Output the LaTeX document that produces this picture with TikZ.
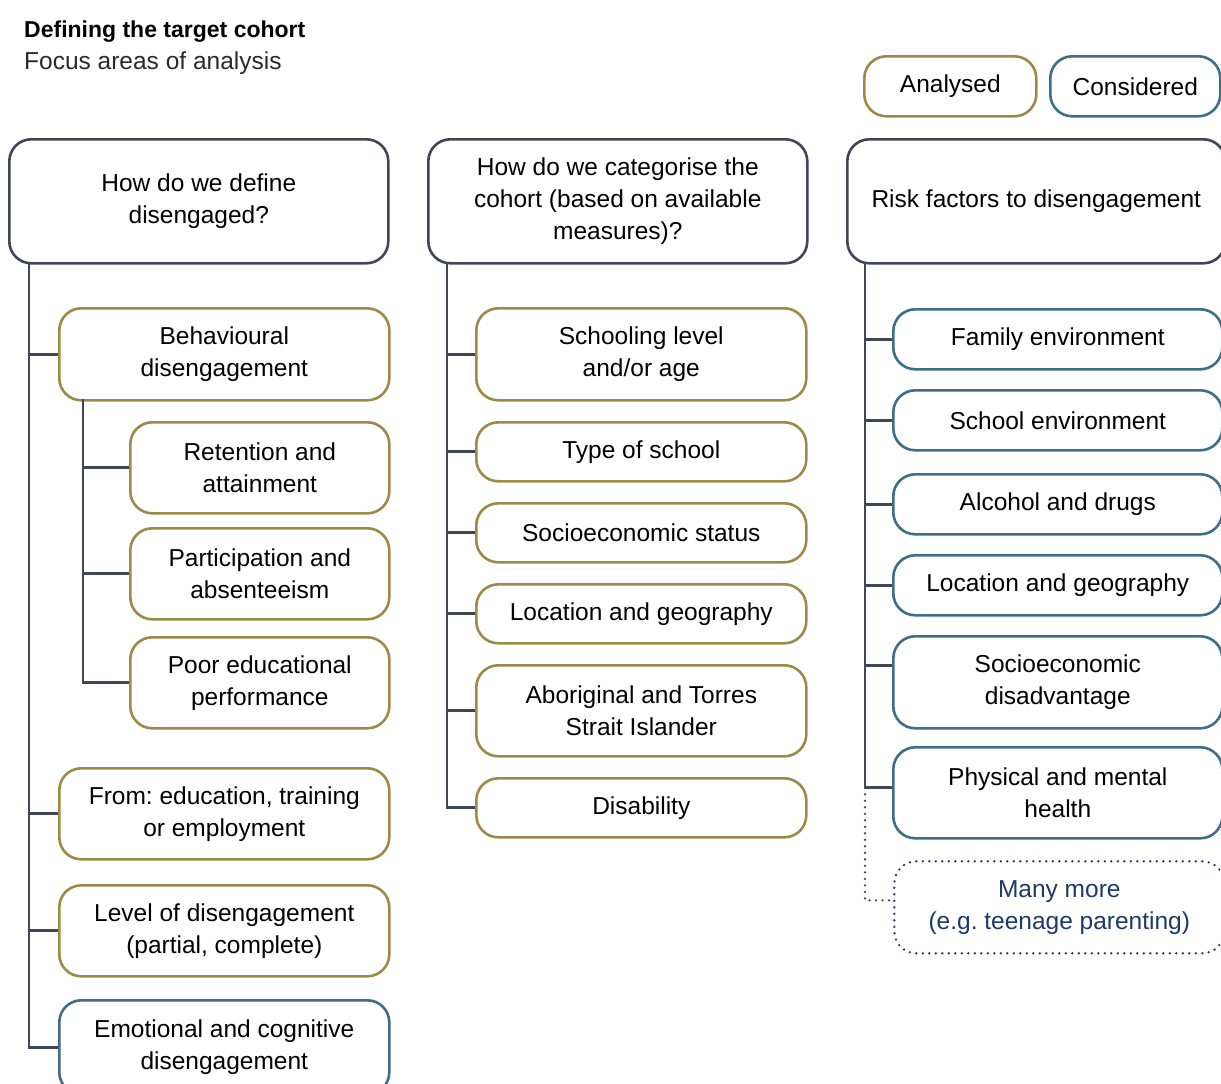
\documentclass[tikz,border=0pt]{standalone}
\usepackage{fontspec}
\setmainfont{Liberation Sans}
\frenchspacing
\definecolor{gold}{HTML}{9E8A48}
\definecolor{teal}{HTML}{3D6E8A}
\definecolor{dark}{HTML}{3F4756}
\definecolor{navy}{HTML}{1E3A6B}
\definecolor{sub}{HTML}{2A2A2A}
\begin{document}
\begin{tikzpicture}[x=1pt,y=-1pt,
  base/.style={rounded corners=22pt, line width=2.6pt, fill=white, anchor=north west,
     align=center, inner sep=0pt, font=\fontsize{24.5}{32}\selectfont\frenchspacing, text=black},
  hbox/.style={base, draw=dark},
  gbox/.style={base, draw=gold},
  bbox/.style={base, draw=teal},
  mbox/.style={base, draw=navy, line width=2.6pt, line cap=round, dash pattern={on 0pt off 6.5pt}, text=navy},
  wire/.style={draw=dark, line width=2.8pt},
  dwire/.style={draw=dark, line width=2.6pt, line cap=round, dash pattern={on 0pt off 6.5pt}}]
\useasboundingbox (0,0) rectangle (1221,1084);
\clip (0,0) rectangle (1221,1084);

% titles
\node[anchor=base west, inner sep=0pt, font=\fontsize{23}{28}\selectfont\bfseries] (title) at (24,37) {Defining the target cohort};
\node[anchor=base west, inner sep=0pt, font=\fontsize{24.5}{28}\selectfont, text=sub] (subtitle) at (24,69) {Focus areas of analysis};

% legend
\node[gbox, minimum width=172pt, minimum height=60pt] (lga) at (863,55) {Analysed};
\node[bbox, minimum width=170pt, minimum height=60pt] (lgc) at (1049,55) {Considered};

% headers
\node[hbox, minimum width=379pt, minimum height=124pt] (h1) at (8,138) {How do we define\\disengaged?};
\node[hbox, minimum width=379pt, minimum height=124pt] (h2) at (427,138) {How do we categorise the\\cohort (based on available\\measures)?};
\node[hbox, minimum width=378pt, minimum height=124pt] (h3) at (846,138) {Risk factors to disengagement};

% column 1
\node[gbox, minimum width=330pt, minimum height=92pt] (a1) at (58,307) {Behavioural\\disengagement};
\node[gbox, minimum width=259pt, minimum height=91pt] (r1) at (129,421) {Retention and\\attainment};
\node[gbox, minimum width=259pt, minimum height=91pt] (r2) at (129,527) {Participation and\\absenteeism};
\node[gbox, minimum width=259pt, minimum height=91pt] (r3) at (129,636) {Poor educational\\performance};
\node[gbox, minimum width=330pt, minimum height=91pt] (a2) at (58,767) {From: education, training\\or employment};
\node[gbox, minimum width=330pt, minimum height=91pt] (a3) at (58,884) {Level of disengagement\\(partial, complete)};
\node[bbox, minimum width=330pt, minimum height=94pt] (a4) at (58,999) {Emotional and cognitive\\disengagement};

% column 2
\node[gbox, minimum width=330pt, minimum height=92pt] (c1) at (475,307) {Schooling level\\and/or age};
\node[gbox, minimum width=330pt, minimum height=59pt] (c2) at (475,421) {Type of school};
\node[gbox, minimum width=330pt, minimum height=59pt] (c3) at (475,502) {Socioeconomic status};
\node[gbox, minimum width=330pt, minimum height=59pt] (c4) at (475,583) {Location and geography};
\node[gbox, minimum width=330pt, minimum height=91pt] (c5) at (475,664) {Aboriginal and Torres\\Strait Islander};
\node[gbox, minimum width=330pt, minimum height=59pt] (c6) at (475,777) {Disability};

% column 3
\node[bbox, minimum width=329pt, minimum height=60pt] (d1) at (892,308) {Family environment};
\node[bbox, minimum width=329pt, minimum height=60pt] (d2) at (892,389) {School environment};
\node[bbox, minimum width=329pt, minimum height=60pt] (d3) at (892,473) {Alcohol and drugs};
\node[bbox, minimum width=329pt, minimum height=60pt] (d4) at (892,554) {Location and geography};
\node[bbox, minimum width=329pt, minimum height=92pt] (d5) at (892,635) {Socioeconomic\\disadvantage};
\node[bbox, minimum width=329pt, minimum height=91pt] (d6) at (892,746) {Physical and mental\\health};
\node[mbox, minimum width=330pt, minimum height=92pt] (d7) at (893,860) {Many more\\(e.g. teenage parenting)};

% column 1 connectors
\coordinate (s1) at (29,262);
\draw[wire] (s1) |- (a4.west);
\draw[wire] (a1.west) -- (a1.west -| s1);
\draw[wire] (a2.west) -- (a2.west -| s1);
\draw[wire] (a3.west) -- (a3.west -| s1);
\coordinate (s1b) at (83,399);
\draw[wire] (s1b) |- (r3.west);
\draw[wire] (r1.west) -- (r1.west -| s1b);
\draw[wire] (r2.west) -- (r2.west -| s1b);

% column 2 connectors
\coordinate (s2) at (447,262);
\draw[wire] (s2) |- (c6.west);
\foreach \n in {c1,c2,c3,c4,c5}{\draw[wire] (\n.west) -- (\n.west -| s2);}

% column 3 connectors
\coordinate (s3) at (865,262);
\coordinate (p6) at ([yshift=5.5pt]d6.west);
\coordinate (p5) at ([yshift=17pt]d5.west);
\coordinate (p7) at ([yshift=7pt]d7.west);
\draw[wire] (s3) |- (p6);
\foreach \n in {d1,d2,d3,d4}{\draw[wire] (\n.west) -- (\n.west -| s3);}
\draw[wire] (p5) -- (p5 -| s3);
\draw[dwire] (p6 -| s3) ++(0,7) |- (p7);
\end{tikzpicture}
\end{document}
